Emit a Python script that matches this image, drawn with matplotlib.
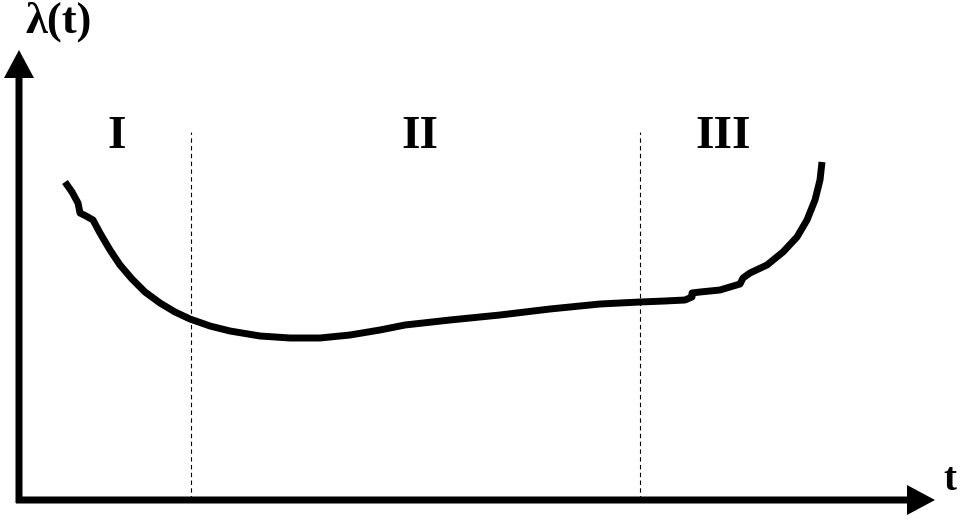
import matplotlib.pyplot as plt

# bathtub curve (t from origin, lambda upward)
t_vals = [46, 53, 59, 61, 67, 74, 81, 91, 101, 113, 126, 141, 156, 171, 191, 211,
          241, 271, 301, 331, 361, 386, 431, 481, 531, 581, 621, 646, 666, 673, 673,
          681, 701, 721, 724, 731, 748, 764, 778, 788, 796, 801, 803]
lam_vals = [318, 308, 297, 287, 284, 280, 267, 250, 235, 221, 208, 197, 188, 181, 174, 169,
            164, 162, 162, 165, 170, 175, 180, 185, 191, 196, 198, 199, 200, 203, 207,
            208, 210, 216, 222, 227, 235, 248, 263, 280, 300, 320, 338]

period_bounds = [172, 621]
period_labels = ["I", "II", "III"]
label_t = [98, 401, 704]

fig = plt.figure(figsize=(9.6, 5.21), dpi=100)
ax = fig.add_axes([0, 0, 1, 1])
ax.set_xlim(-19, 941)
ax.set_ylim(-21, 500)
ax.axis("off")

# axes with arrows
ax.arrow(-3, 0, 919, 0, width=7, head_width=30, head_length=28,
         length_includes_head=True, color="black", lw=0)
ax.arrow(0, -3, 0, 453, width=7, head_width=30, head_length=28,
         length_includes_head=True, color="black", lw=0)

for b in period_bounds:
    ax.plot([b, b], [0, 368], color="black", lw=0.8, linestyle=(0, (4, 3)))

ax.plot(t_vals, lam_vals, color="black", lw=5, solid_capstyle="butt",
        solid_joinstyle="round")

font = dict(family="Liberation Serif", weight="bold", color="black")
for lbl, x in zip(period_labels, label_t):
    ax.text(x, 363, lbl, fontsize=34, ha="center", va="center", **font)
ax.text(40, 478, "λ(t)", fontsize=32, ha="center", va="center", **font)
ax.text(931, 20, "t", fontsize=28, ha="center", va="center", **font)

fig.savefig("out.png", dpi=100)
